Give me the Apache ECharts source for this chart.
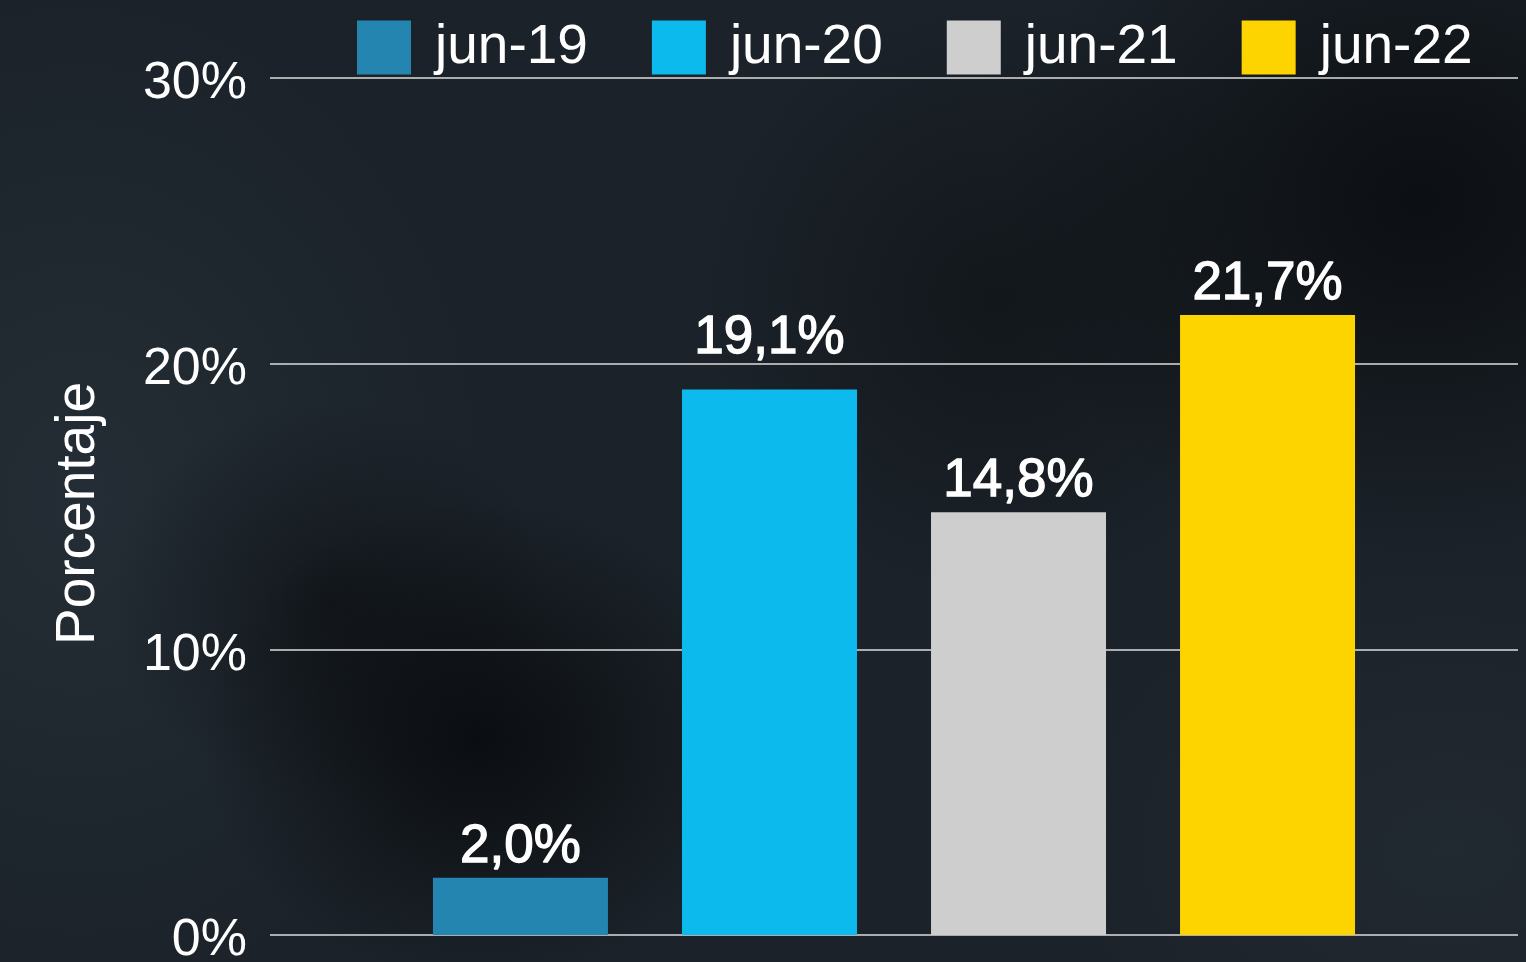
<!DOCTYPE html>
<html>
<head>
<meta charset="utf-8">
<script src="https://cdn.jsdelivr.net/npm/echarts@6/dist/echarts.min.js"></script>
<style>
html,body{margin:0;padding:0;width:1526px;height:962px;overflow:hidden;}
body{
 background:
  radial-gradient(ellipse 280px 240px at 480px 740px, rgba(8,10,13,0.85), rgba(8,10,13,0) 100%),
  radial-gradient(ellipse 220px 200px at 330px 600px, rgba(8,10,13,0.5), rgba(8,10,13,0) 100%),
  radial-gradient(ellipse 420px 360px at 1420px 200px, rgba(8,10,13,0.8), rgba(8,10,13,0) 100%),
  radial-gradient(ellipse 300px 300px at 1000px 300px, rgba(10,12,15,0.5), rgba(10,12,15,0) 100%),
  radial-gradient(ellipse 420px 520px at 80px 500px, rgba(40,50,58,0.7), rgba(40,50,58,0) 100%),
  radial-gradient(ellipse 400px 300px at 1450px 850px, rgba(38,46,54,0.6), rgba(38,46,54,0) 100%),
  #1b2229;
}
#chart{width:1526px;height:962px;}
</style>
</head>
<body>
<div id="chart"></div>
<script>
var categories = ['Porcentaje'];
var seriesNames = ['jun-19', 'jun-20', 'jun-21', 'jun-22'];
var seriesValues = [2.0, 19.1, 14.8, 21.7];
var seriesColors = ['#2385b0', '#0dbaee', '#cecece', '#fdd300'];
var yTicks = [0, 10, 20, 30];

var FONT = '"Liberation Sans", Arial, sans-serif';
var chart = echarts.init(document.getElementById('chart'), null, {renderer: 'canvas'});

var series = seriesNames.map(function (name, i) {
  return {
    name: name,
    type: 'bar',
    data: [seriesValues[i]],
    barWidth: 175,
    barGap: '42.3%',
    itemStyle: {color: seriesColors[i]},
    z: 3,
    label: {
      show: true,
      position: 'top',
      distance: name === 'jun-20' ? 24 : 4,
      color: '#ffffff',
      fontFamily: FONT,
      fontWeight: 'normal',
      fontSize: 53,
      textBorderColor: '#ffffff',
      textBorderWidth: 1.3,
      formatter: function (p) { return p.value.toFixed(1).replace('.', ',') + '%'; }
    }
  };
});

chart.setOption({
  backgroundColor: 'transparent',
  animation: false,
  grid: {left: 270, right: 8, top: 78, bottom: 27, containLabel: false, outerBoundsMode: 'none'},
  legend: {
    data: seriesNames,
    left: 357,
    top: 20,
    padding: 0,
    icon: 'rect',
    itemWidth: 54,
    itemHeight: 54,
    itemGap: 64,
    textStyle: {color: '#ffffff', fontFamily: FONT, fontSize: 55, padding: [8, 0, 0, 19]}
  },
  xAxis: {
    type: 'category',
    data: categories,
    axisLine: {show: false},
    axisTick: {show: false},
    axisLabel: {show: false}
  },
  yAxis: {
    type: 'value',
    min: yTicks[0],
    max: yTicks[yTicks.length - 1],
    interval: 10,
    name: 'Porcentaje',
    nameLocation: 'middle',
    nameGap: 164,
    nameRotate: 90,
    nameTextStyle: {color: '#ffffff', fontFamily: FONT, fontSize: 55, padding: [0, 14, 0, 0]},
    axisLine: {show: false},
    axisTick: {show: false},
    axisLabel: {
      color: '#ffffff',
      fontFamily: FONT,
      fontSize: 52,
      margin: 23,
      verticalAlign: 'top',
      lineHeight: 12,
      formatter: '{value}%'
    },
    splitLine: {lineStyle: {color: '#dcdcdc', width: 1.5}}
  },
  series: series
});
</script>
</body>
</html>
